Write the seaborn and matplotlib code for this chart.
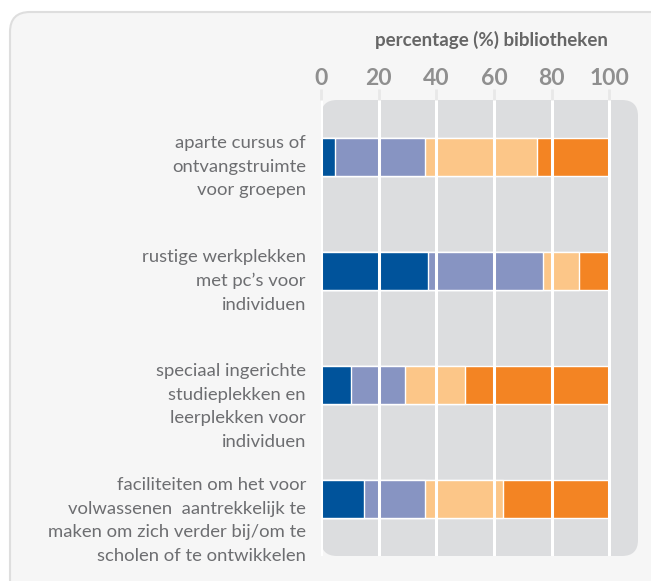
import numpy as np
import pandas as pd
import matplotlib.pyplot as plt
import matplotlib.transforms as mtransforms
from matplotlib.patches import FancyBboxPatch
import seaborn as sns

# categorieen (van boven naar beneden)
categories = [
    "aparte cursus of\nontvangstruimte\nvoor groepen",
    "rustige werkplekken\nmet pc\u2019s voor\nindividuen",
    "speciaal ingerichte\nstudieplekken en\nleerplekken voor\nindividuen",
    "faciliteiten om het voor\nvolwassenen  aantrekkelijk te\nmaken om zich verder bij/om te\nscholen of te ontwikkelen",
]

# percentages per segment (links -> rechts)
seg_donkerblauw = [5, 37, 10.5, 15]
seg_lichtblauw = [31, 40, 18.5, 21]
seg_lichtoranje = [39, 12.5, 21, 27]
seg_oranje = [25, 10.5, 50, 37]

x_ticks = [0, 20, 40, 60, 80, 100]

colors = ["#00539b", "#8794c2", "#fcc688", "#f38423"]

df = pd.DataFrame({
    "categorie": categories,
    "s1": seg_donkerblauw,
    "s2": seg_lichtblauw,
    "s3": seg_lichtoranje,
    "s4": seg_oranje,
})
cols = ["s1", "s2", "s3", "s4"]
cum = df[cols].cumsum(axis=1)

sns.set_theme(style="white")
plt.rcParams["font.family"] = ["Lato", "DejaVu Sans"]

W, H, DPI = 651, 581, 100
fig = plt.figure(figsize=(W / DPI, H / DPI), dpi=DPI, facecolor="white")

# grijs paneel met afgeronde hoeken
panel = FancyBboxPatch((10 / DPI, -0.5), 7.0, (H - 12) / DPI + 0.5,
                       boxstyle="round,pad=0,rounding_size=0.2",
                       transform=fig.dpi_scale_trans, facecolor="#f6f6f6",
                       edgecolor="#dedede", linewidth=1.5, zorder=-2)
fig.patches.append(panel)

left, right, top, bottom = 321, 638, 100, 556
ax = fig.add_axes([left / W, 1 - bottom / H, (right - left) / W, (bottom - top) / H])
ax.set_facecolor("none")

plot_bg = FancyBboxPatch((left / DPI, (H - bottom) / DPI), (right - left) / DPI, (bottom - top) / DPI,
                         boxstyle="round,pad=0,rounding_size=0.16",
                         transform=fig.dpi_scale_trans, facecolor="#dcdddf",
                         edgecolor="none", zorder=-1)
fig.patches.append(plot_bg)

# gestapelde balken: van totaal naar eerste segment
for col, c in reversed(list(zip(cols, colors))):
    sns.barplot(x=cum[col], y=df["categorie"], color=c, width=0.33,
                saturation=1, ax=ax, orient="h", zorder=1)

ax.set_xlim(0, 110)
ax.set_ylim(3.5, -0.5)
ax.set_xticks(x_ticks)
ax.xaxis.tick_top()
ax.set_xticklabels([str(t) for t in x_ticks], color="#8f8f8f", fontsize=16.5, fontweight="bold")
ax.tick_params(axis="x", length=8, width=2, color="#e8e8e8", pad=0, top=True, bottom=False)
ax.tick_params(axis="y", length=0)
ax.set_xlabel("")
ax.set_ylabel("")
ax.set_yticklabels([])
ax.grid(axis="x", color="white", linewidth=2.2)
ax.grid(axis="y", visible=False)
ax.set_axisbelow(False)
for s in ax.spines.values():
    s.set_visible(False)

# labels links, bovenaan uitgelijnd met de balk
trans = mtransforms.blended_transform_factory(ax.transAxes, ax.transData)
off = mtransforms.ScaledTranslation(-15 / DPI, 22 / DPI, fig.dpi_scale_trans)
for i, lab in enumerate(categories):
    ax.text(0, i, lab, transform=trans + off, ha="right", va="top",
            multialignment="right", fontsize=13.3, color="#6d6e71", linespacing=1.58)

fig.text(491 / W, 1 - 40 / H, "percentage (%) bibliotheken", ha="center", va="center",
         fontsize=13.5, fontweight="bold", color="#666666")

fig.savefig("out.png", dpi=DPI, facecolor="white")
